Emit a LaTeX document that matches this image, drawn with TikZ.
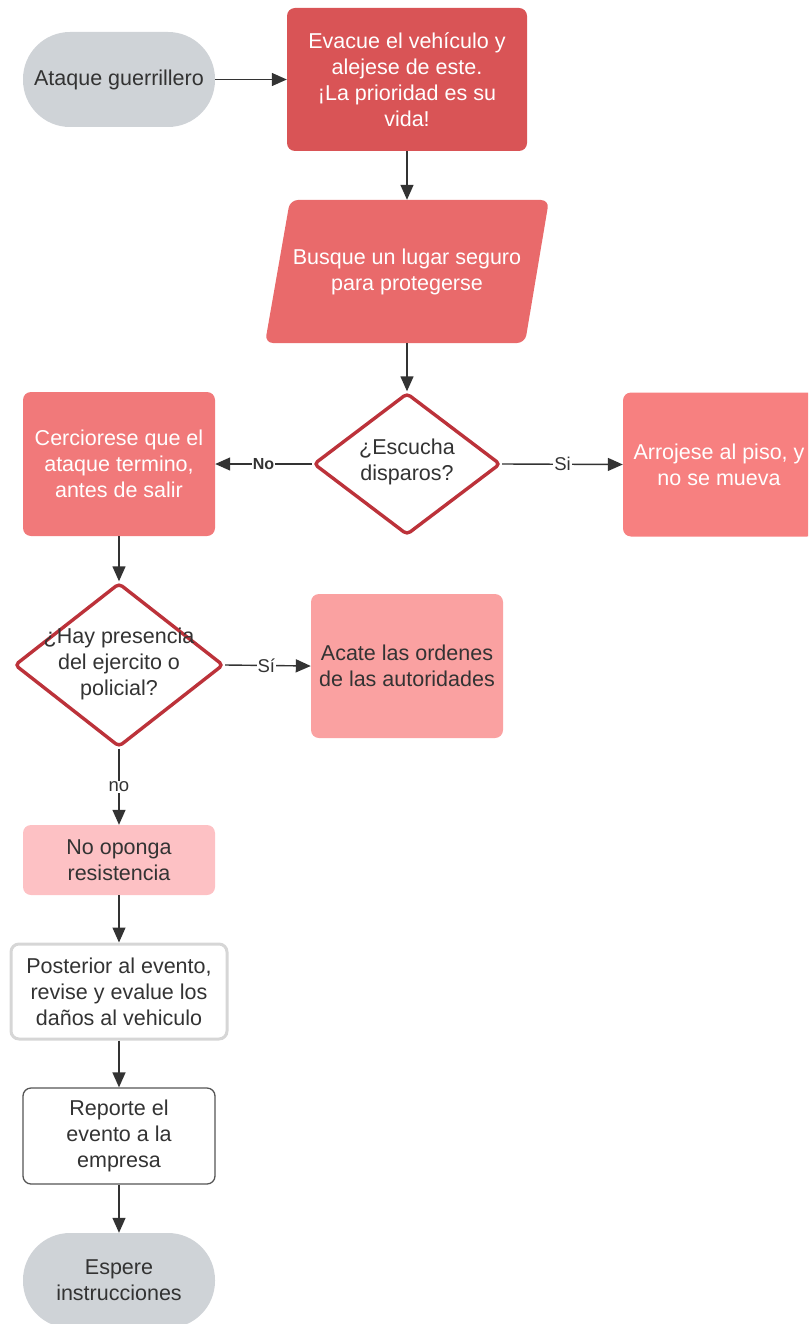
\documentclass[tikz,border=0pt]{standalone}
\usepackage{fontspec}
\setmainfont{Liberation Sans}
\usetikzlibrary{shapes.geometric,arrows.meta}
\definecolor{cgray}{RGB}{207,211,215}
\definecolor{cred1}{RGB}{217,84,86}
\definecolor{cred2}{RGB}{233,106,107}
\definecolor{cred3}{RGB}{241,121,122}
\definecolor{cred4}{RGB}{247,128,128}
\definecolor{cred5}{RGB}{250,161,161}
\definecolor{cred6}{RGB}{253,193,196}
\definecolor{dborder}{RGB}{188,50,58}
\definecolor{ctext}{RGB}{51,51,51}
\definecolor{lgray}{RGB}{214,214,214}
\definecolor{dgray}{RGB}{85,85,85}
\tikzset{
  x=1pt, y=-1pt,
  every node/.style={font=\fontsize{21.5}{26}\selectfont, align=center, inner sep=0pt},
  boxw/.style={rectangle, rounded corners=8pt, minimum width=192pt, minimum height=144pt, text=white},
  boxd/.style={rectangle, rounded corners=8pt, minimum width=192pt, text=ctext},
  term/.style={rectangle, rounded corners=47pt, fill=cgray, minimum width=192pt, minimum height=95pt, text=ctext},
  decision/.style={diamond, draw=dborder, line width=3.4pt, fill=white, rounded corners=4pt},
  dtext/.style={text=ctext},
  conn/.style={draw=ctext, line width=1.4pt, -{Triangle[length=15pt,width=13pt]}},
  elabel/.style={fill=white, text=ctext, font=\fontsize{18.5}{22}\selectfont, inner sep=1pt},
}
\begin{document}
\begin{tikzpicture}
\useasboundingbox (0,0) rectangle (808,1324);
\clip (0,0) rectangle (808,1324);
% nodes
\node[term] (ataque) at (119,79.5) {Ataque guerrillero};
\node[boxw, fill=cred1, minimum width=240pt, minimum height=143pt] (evacue) at (407,79.5)
  {Evacue el vehículo y\\alejese de este.\\¡La prioridad es su\\vida!};
% parallelogram
\fill[cred2, rounded corners=8pt] (290,200) -- (549,200) -- (525,343) -- (265,343) -- cycle;
\node[rectangle, minimum width=230pt, minimum height=143pt, text=white] (busque) at (407,271.5)
  {Busque un lugar seguro\\para protegerse};
\node[decision, minimum width=187pt, minimum height=142pt] (d1) at (407,464) {};
\node[dtext] (d1t) at (407,462) {¿Escucha\\disparos?};
\node[boxw, fill=cred3] (cerc) at (119,464) {Cerciorese que el\\ataque termino,\\antes de salir};
\node[boxw, fill=cred4] (arro) at (719,464.5) {Arrojese al piso, y\\no se mueva};
\node[decision, minimum width=209pt, minimum height=164pt] (d2) at (119,665) {};
\node[dtext] (d2t) at (119,664) {¿Hay presencia\\del ejercito o\\policial?};
\node[boxd, fill=cred5, minimum height=144pt] (acate) at (407,666) {Acate las ordenes\\de las autoridades};
\node[boxd, fill=cred6, minimum height=70pt] (noop) at (119,860) {No oponga\\resistencia};
\node[rectangle, rounded corners=8pt, draw=lgray, line width=3pt, fill=white, text=ctext,
  minimum width=216pt, minimum height=95pt] (post) at (119,991.5)
  {Posterior al evento,\\revise y evalue los\\daños al vehiculo};
\node[rectangle, rounded corners=8pt, draw=dgray, line width=1.3pt, fill=white, text=ctext,
  minimum width=192pt, minimum height=96pt] (repo) at (119,1136) {Reporte el\\evento a la\\empresa};
\node[term] (espere) at (119,1280.5) {Espere\\instrucciones};
% connectors
\draw[conn] (ataque) -- (evacue);
\draw[conn] (evacue.south) -- (busque.north);
\draw[conn] (busque.south) -- (d1.north);
\draw[conn] (d1.west) -- node[elabel, font=\bfseries\fontsize{16}{19}\selectfont, pos=0.5] (lno) {No} (cerc.east);
\draw[conn] (d1.east) -- node[elabel, pos=0.5] (lsi) {Si} (arro.west);
\draw[conn] (cerc.south) -- (d2.north);
\draw[conn] (d2.east) -- node[elabel, pos=0.48] (lsi2) {Sí} (acate.west);
\draw[conn] (d2.south) -- node[elabel, pos=0.5] (lno2) {no} (noop.north);
\draw[conn] (noop) -- (post);
\draw[conn] (post) -- (repo);
\draw[conn] (repo) -- (espere);
\end{tikzpicture}
\end{document}
